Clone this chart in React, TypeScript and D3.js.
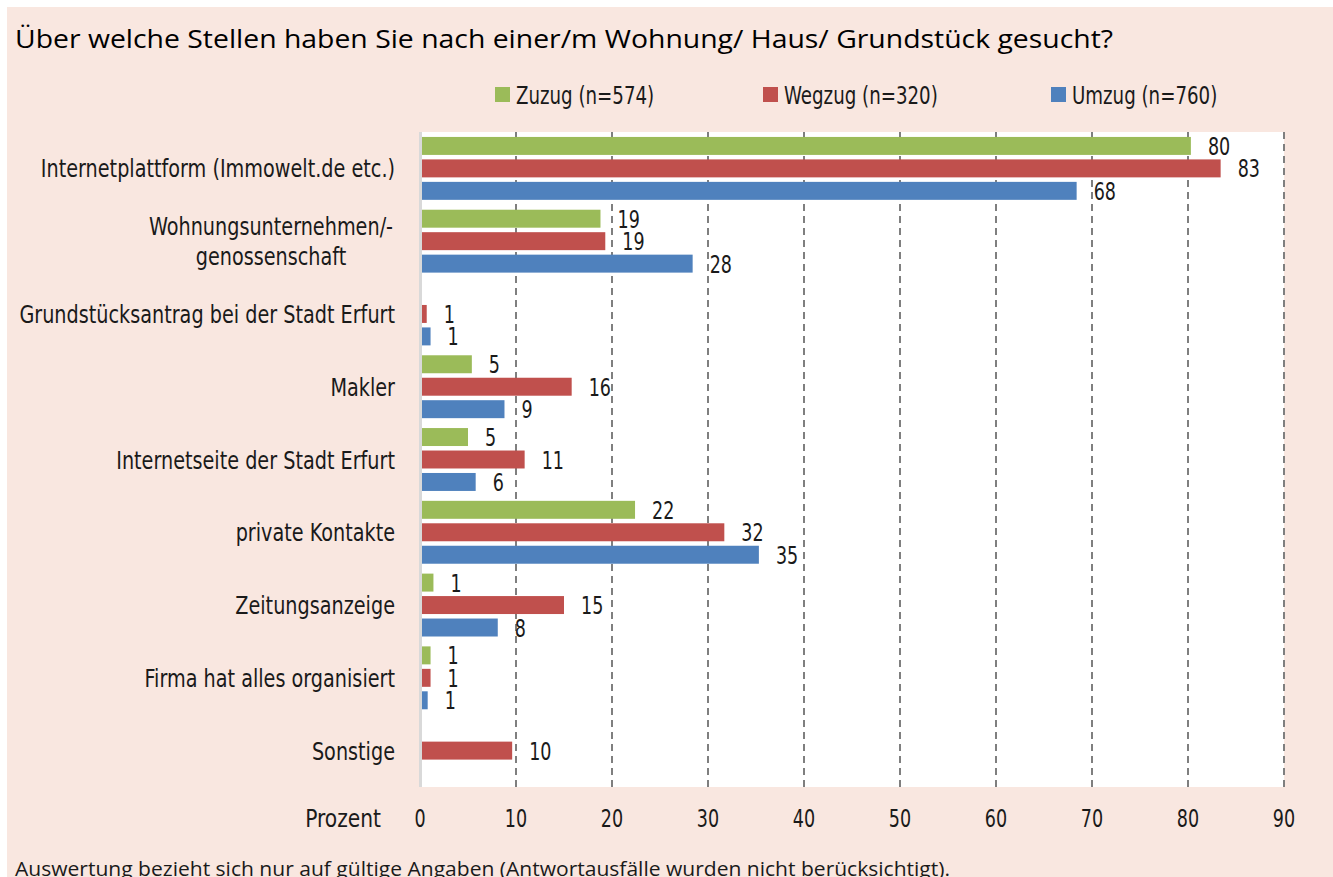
import React, { useEffect, useRef } from 'react'
import * as d3 from 'd3'

const categories = [
  'Internetplattform (Immowelt.de etc.)',
  'Wohnungsunternehmen/-\ngenossenschaft',
  'Grundstücksantrag bei der Stadt Erfurt',
  'Makler',
  'Internetseite der Stadt Erfurt',
  'private Kontakte',
  'Zeitungsanzeige',
  'Firma hat alles organisiert',
  'Sonstige',
]

const seriesNames = ['Zuzug (n=574)', 'Wegzug (n=320)', 'Umzug (n=760)']
const seriesColors = ['#9bbb59', '#c0504d', '#4f81bd']

const zuzug = [80.3, 18.8, null, 5.4, 5.0, 22.4, 1.4, 1.1, null]
const wegzug = [83.4, 19.3, 0.7, 15.8, 10.9, 31.7, 15.0, 1.1, 9.6]
const umzug = [68.4, 28.4, 1.1, 8.8, 5.8, 35.3, 8.1, 0.8, null]

const xTicks = [0, 10, 20, 30, 40, 50, 60, 70, 80, 90]

const title = 'Über welche Stellen haben Sie nach einer/m Wohnung/ Haus/ Grundstück gesucht?'
const footnote = 'Auswertung bezieht sich nur auf gültige Angaben (Antwortausfälle wurden nicht berücksichtigt).'

const W = 1333
const H = 877
const narrow = "'DejaVu Sans Condensed', 'DejaVu Sans', sans-serif"
const wide = "'Open Sans', 'Noto Sans', sans-serif"

type Sel = d3.Selection<any, unknown, null, undefined>

// squeezed text: the reference uses a condensed face, so scale x a bit
function squeezed(parent: Sel, x: number, y: number, str: string, sx: number, anchor = 'start') {
  const g = parent.append('g').attr('transform', `translate(${x},${y}) scale(${sx},1)`)
  g.append('text')
    .attr('x', 0).attr('y', 0)
    .attr('dy', '0.36em')
    .attr('text-anchor', anchor)
    .style('font-family', narrow)
    .style('font-size', '25px')
    .attr('fill', '#1a1a1a')
    .text(str)
  return g
}

export default function App() {
  const svgRef = useRef<SVGSVGElement>(null)

  useEffect(() => {
    document.body.style.margin = '0'
    if (!svgRef.current) return
    const svg = d3.select(svgRef.current) as unknown as Sel
    svg.selectAll('*').remove()

    // background
    svg.append('rect').attr('width', W).attr('height', H).attr('fill', '#ffffff')
    svg.append('rect')
      .attr('x', 7).attr('y', 7)
      .attr('width', W - 7).attr('height', H - 7)
      .attr('fill', '#f9e7e0')

    const plot = { left: 420, right: 1284, top: 132, bottom: 787 }

    const x = d3.scaleLinear().domain([0, 90]).range([plot.left, plot.right])
    const y = d3.scaleBand().domain(categories).range([plot.top, plot.bottom])
    const ySub = d3.scaleBand<number>()
      .domain([0, 1, 2])
      .range([0, y.bandwidth()])
      .paddingInner(0.2)
      .paddingOuter(0.22)

    svg.append('rect')
      .attr('x', plot.left).attr('y', plot.top)
      .attr('width', plot.right - plot.left).attr('height', plot.bottom - plot.top)
      .attr('fill', '#ffffff')

    // grid
    svg.selectAll('.grid')
      .data(xTicks.filter(d => d > 0))
      .enter()
      .append('line')
      .attr('x1', d => x(d)).attr('x2', d => x(d))
      .attr('y1', plot.top).attr('y2', plot.bottom)
      .attr('stroke', '#7f7f7f')
      .attr('stroke-width', 2)
      .attr('stroke-dasharray', '7,5')

    // left axis line
    svg.append('line')
      .attr('x1', plot.left + 0.5).attr('x2', plot.left + 0.5)
      .attr('y1', plot.top).attr('y2', plot.bottom)
      .attr('stroke', '#d9d9d9')
      .attr('stroke-width', 3)

    const series = [zuzug, wegzug, umzug]
    series.forEach((vals, si) => {
      const g = svg.append('g')
      const items = vals
        .map((v, i) => ({ v, cat: categories[i] }))
        .filter(d => d.v != null) as { v: number; cat: string }[]

      g.selectAll('rect')
        .data(items)
        .enter()
        .append('rect')
        .attr('x', x(0) + 2)
        .attr('y', d => (y(d.cat) as number) + (ySub(si) as number))
        .attr('width', d => x(d.v) - x(0) - 2)
        .attr('height', ySub.bandwidth())
        .attr('fill', seriesColors[si])

      items.forEach(d => {
        const cy = (y(d.cat) as number) + (ySub(si) as number) + ySub.bandwidth() / 2
        squeezed(g, x(d.v) + 17, cy, String(Math.round(d.v)), 0.78)
      })
    })

    // category labels
    categories.forEach(cat => {
      const lines = cat.split('\n')
      const cy = (y(cat) as number) + y.bandwidth() / 2
      const lh = 30
      lines.forEach((ln, i) => {
        const ly = cy + (i - (lines.length - 1) / 2) * lh
        if (lines.length > 1) squeezed(svg, 271, ly, ln, 0.855, 'middle')
        else squeezed(svg, 395, ly, ln, 0.855, 'end')
      })
    })

    // x tick labels
    xTicks.forEach(t => squeezed(svg, x(t), 818, String(t), 0.78, 'middle'))
    squeezed(svg, 381, 818, 'Prozent', 0.9, 'end')

    // legend
    const legendX = [495, 763, 1051]
    seriesNames.forEach((name, i) => {
      const lg = svg.append('g').attr('transform', `translate(${legendX[i]}, 94.5)`)
      lg.append('rect')
        .attr('x', 0).attr('y', -7.5)
        .attr('width', 15).attr('height', 15)
        .attr('fill', seriesColors[i])
      squeezed(lg, 21, 0, name, 0.81)
    })

    // title
    svg.append('text')
      .attr('x', 15).attr('y', 48)
      .attr('textLength', 1098)
      .attr('lengthAdjust', 'spacingAndGlyphs')
      .style('font-family', wide)
      .style('font-size', '26px')
      .attr('fill', '#000000')
      .text(title)

    // footnote
    svg.append('text')
      .attr('x', 15).attr('y', 876)
      .attr('textLength', 935)
      .attr('lengthAdjust', 'spacingAndGlyphs')
      .style('font-family', wide)
      .style('font-size', '20px')
      .attr('fill', '#1a1a1a')
      .text(footnote)
  }, [])

  return <svg ref={svgRef} width={W} height={H} style={{ display: 'block' }} />
}
